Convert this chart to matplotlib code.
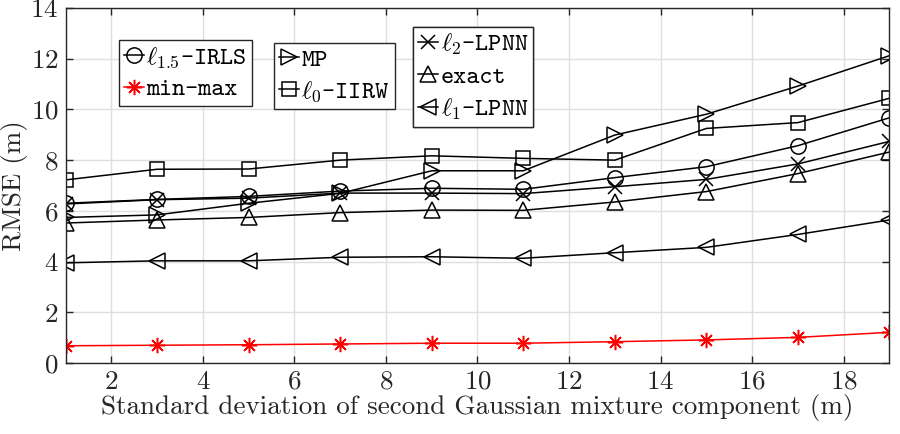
import numpy as np
import matplotlib
matplotlib.use('Agg')
import matplotlib.pyplot as plt

plt.rcParams['mathtext.fontset'] = 'cm'
plt.rcParams['font.family'] = ['cmr10', 'DejaVu Serif']
plt.rcParams['axes.formatter.use_mathtext'] = True

# Dati
sigma = [1, 3, 5, 7, 9, 11, 13, 15, 17, 19]
irls = [6.30, 6.45, 6.57, 6.78, 6.89, 6.85, 7.31, 7.74, 8.57, 9.67]
minmax = [0.68, 0.70, 0.72, 0.75, 0.78, 0.78, 0.84, 0.91, 1.01, 1.21]
mp = [5.74, 5.84, 6.30, 6.69, 7.58, 7.58, 8.99, 9.81, 10.92, 12.12]
iirw = [7.22, 7.64, 7.65, 8.00, 8.17, 8.07, 8.00, 9.25, 9.48, 10.44]
l2_lpnn = [6.27, 6.44, 6.50, 6.70, 6.70, 6.68, 6.95, 7.24, 7.85, 8.74]
exact = [5.52, 5.64, 5.74, 5.93, 6.03, 6.02, 6.35, 6.76, 7.47, 8.32]
l1_lpnn = [3.95, 4.03, 4.03, 4.17, 4.19, 4.13, 4.35, 4.56, 5.07, 5.64]

xticks = [2, 4, 6, 8, 10, 12, 14, 16, 18]
yticks = [0, 2, 4, 6, 8, 10, 12, 14]

dark = '#262626'
fs = 19.5
fig = plt.figure(figsize=(9, 4.34), dpi=100)
ax = fig.add_axes([0.0728, 0.1636, 0.9155, 0.818])

st = dict(color='k', lw=1.1, ms=11, mfc='none', mew=1.1)
h_irls, = ax.plot(sigma, irls, marker='o', **st)
h_mm, = ax.plot(sigma, minmax, marker=(8, 2, 0), color='r', lw=1.1, ms=11, mew=1.1)
h_mp, = ax.plot(sigma, mp, marker='>', **st)
h_iirw, = ax.plot(sigma, iirw, marker='s', **dict(st, ms=10))
h_l2, = ax.plot(sigma, l2_lpnn, marker='x', **dict(st, ms=10))
h_ex, = ax.plot(sigma, exact, marker='^', **st)
h_l1, = ax.plot(sigma, l1_lpnn, marker='<', **st)

ax.set_xlim(1, 19)
ax.set_ylim(0, 14)
ax.set_xticks(xticks)
ax.set_yticks(yticks)
ax.grid(True, color='#dfdfdf', lw=1.0)
ax.set_axisbelow(True)
ax.tick_params(direction='in', length=5, width=1, colors=dark, labelsize=fs, pad=5,
               top=True, right=True, labeltop=False, labelright=False)
for s in ax.spines.values():
    s.set_color(dark)
    s.set_linewidth(1.0)
ax.set_xlabel('Standard deviation of second Gaussian mixture component (m)', fontsize=fs, color=dark, labelpad=0)
ax.set_ylabel('RMSE (m)', fontsize=fs, color=dark, labelpad=2)

leg_kw = dict(loc='upper left', bbox_transform=fig.transFigure, borderaxespad=0,
              fancybox=False, framealpha=1, edgecolor=dark, handlelength=0.8,
              handletextpad=0.1, labelspacing=0.33, borderpad=0.2,
              prop={'family': 'cmtt10', 'size': 18})

def legenda(handles, labels, anchor):
    lg = ax.legend(handles, labels, bbox_to_anchor=anchor, **leg_kw)
    lg.get_frame().set_linewidth(1.0)
    ax.add_artist(lg)
    return lg

legenda([h_irls, h_mm], [r'$\ell_{1.5}$-IRLS', 'min-max'], (0.1322, 0.9078))
legenda([h_mp, h_iirw], ['MP', r'$\ell_0$-IIRW'], (0.3044, 0.9009))
legenda([h_l2, h_ex, h_l1], [r'$\ell_2$-LPNN', 'exact', r'$\ell_1$-LPNN'], (0.4589, 0.9378))

fig.savefig('out.png', dpi=100)
